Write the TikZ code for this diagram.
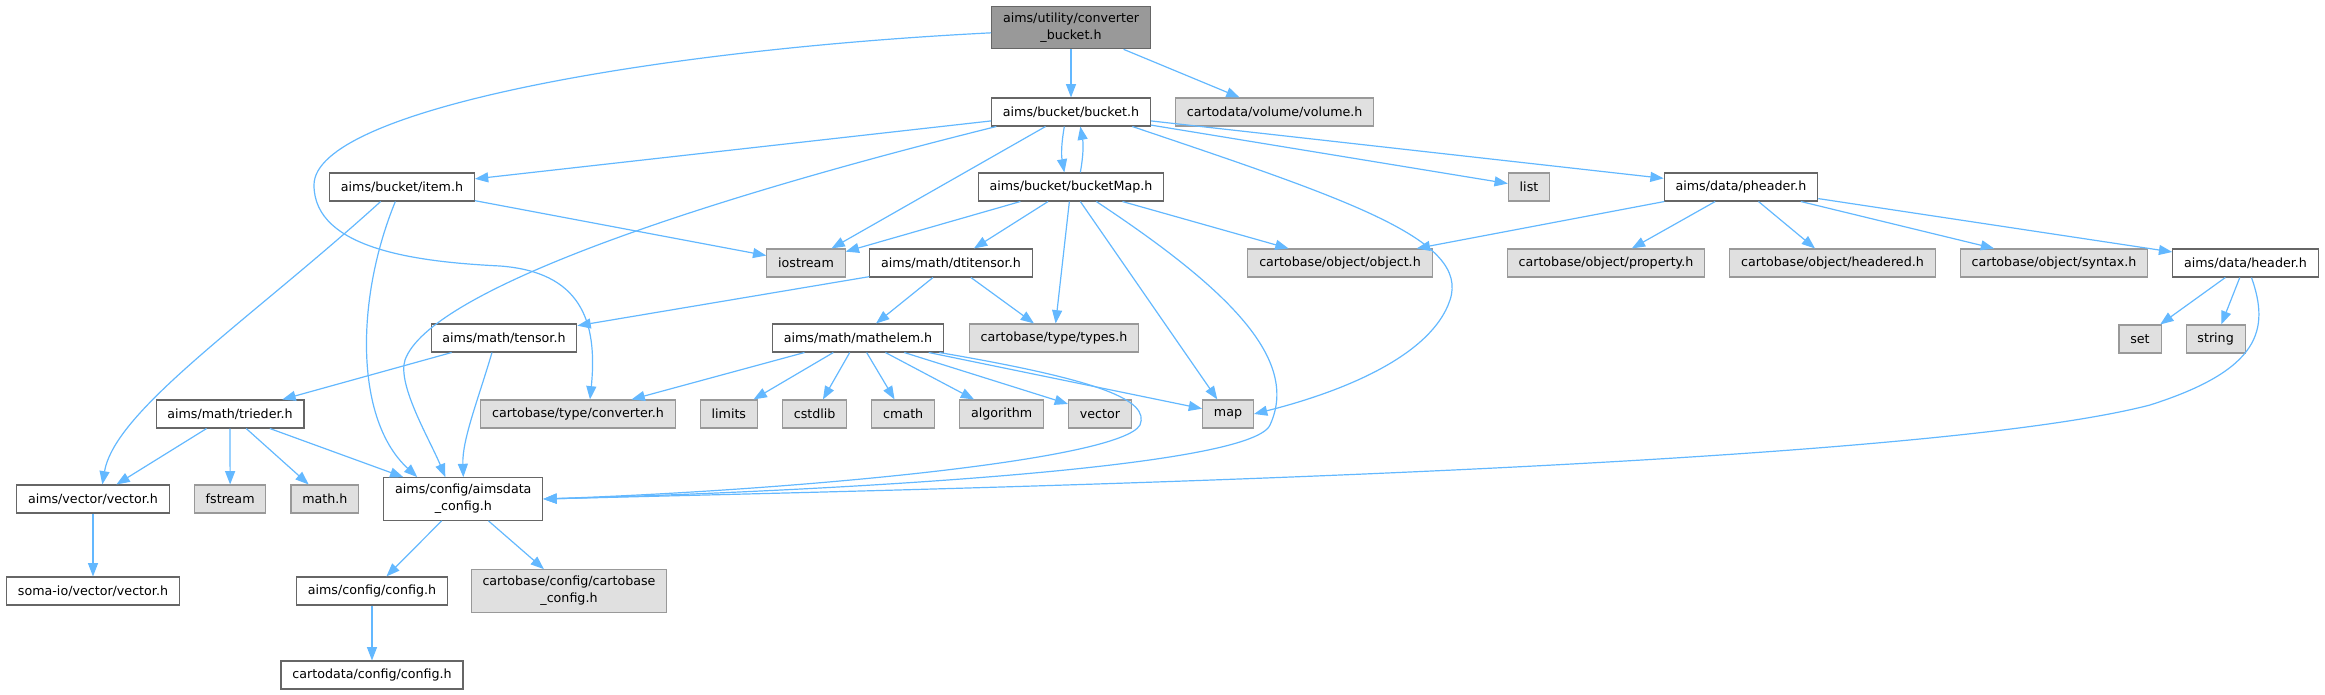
\documentclass[tikz,border=0pt]{standalone}
\usepackage{fontspec}
\setmainfont{DejaVu Sans}
\usetikzlibrary{arrows.meta,positioning}
\definecolor{edgeblue}{HTML}{63B8FF}
\definecolor{boxline}{HTML}{666666}
\definecolor{extline}{HTML}{999999}
\definecolor{extfill}{HTML}{E0E0E0}
\definecolor{rootfill}{HTML}{999999}

\begin{document}
\begin{tikzpicture}
  [x=0.75pt, y=-0.75pt,
  font=\fontsize{9.5}{12.5}\selectfont,
  hfile/.style={rectangle, draw=boxline, fill=white, line width=0.8pt,
    inner xsep=8.5pt, inner ysep=5pt, minimum height=21pt, align=center},
  hext/.style={hfile, draw=extline, fill=extfill},
  hroot/.style={hfile, fill=rootfill},
  dep/.style={-{Triangle[length=10pt, width=7.5pt]}, draw=edgeblue, line width=0.9pt}]

  \useasboundingbox (0,0) rectangle (2325,695);

  \node[hroot] (cb) at (1071,27.5) {aims/utility/converter\\\_bucket.h};
  \node[hfile] (bucket) at (1071,112) {aims/bucket/bucket.h};
  \node[hext] (volume) [right=18pt of bucket] {cartodata/volume/volume.h};

  \node[hfile] (item) at (402,187) {aims/bucket/item.h};
  \node[hfile] (bmap) at (1071,187) {aims/bucket/bucketMap.h};
  \node[hext] (list) at (1529,187) {list};
  \node[hfile] (pheader) at (1741,187) {aims/data/pheader.h};

  \node[hext] (iostream) at (806,263) {iostream};
  \node[hfile] (dti) at (951,263) {aims/math/dtitensor.h};
  \node[hext] (object) at (1340,263) {cartobase/object/object.h};
  \node[hext] (property) at (1606,263) {cartobase/object/property.h};
  \node[hext] (headered) [right=18pt of property] {cartobase/object/headered.h};
  \node[hext] (syntax) [right=18pt of headered] {cartobase/object/syntax.h};
  \node[hfile] (header) [right=18pt of syntax] {aims/data/header.h};

  \node[hfile] (tensor) at (504,338) {aims/math/tensor.h};
  \node[hfile] (mathelem) at (858,338) {aims/math/mathelem.h};
  \node[hext] (types) at (1054,338) {cartobase/type/types.h};
  \node[hext] (set) at (2140,339) {set};
  \node[hext] (string) [right=18pt of set] {string};

  \node[hfile] (trieder) at (230,414) {aims/math/trieder.h};
  \node[hext] (conv) at (578,414) {cartobase/type/converter.h};
  \node[hext] (limits) [right=18pt of conv] {limits};
  \node[hext] (cstdlib) [right=18pt of limits] {cstdlib};
  \node[hext] (cmath) [right=18pt of cstdlib] {cmath};
  \node[hext] (algorithm) [right=18pt of cmath] {algorithm};
  \node[hext] (vector) [right=18pt of algorithm] {vector};
  \node[hext] (map) at (1228,414) {map};

  \node[hfile] (vvec) at (93,499) {aims/vector/vector.h};
  \node[hext] (fstream) [right=18pt of vvec] {fstream};
  \node[hext] (mathh) [right=18pt of fstream] {math.h};
  \node[hfile] (adconf) [right=18pt of mathh] {aims/config/aimsdata\\\_config.h};

  \node[hfile] (somaio) at (93,591) {soma-io/vector/vector.h};
  \node[hfile] (aconfig) at (372,591) {aims/config/config.h};
  \node[hext] (cbconf) at (569,591) {cartobase/config/cartobase\\\_config.h};
  \node[hfile] (cdconfig) at (372,675) {cartodata/config/config.h};

  % converter_bucket.h
  \draw[dep] (cb) -- (bucket);
  \draw[dep] (cb) -- (volume);
  \draw[dep] ([yshift=-4pt]cb.west) .. controls (650,50) and (314,110) .. (314,185)
    .. controls (314,250) and (420,262) .. (500,266)
    .. controls (580,272) and (598,320) .. ([xshift=9pt]conv.north);

  % bucket.h
  \draw[dep] (bucket) -- (item);
  \draw[dep] ([xshift=-56pt]bucket.south) .. controls (700,200) and (430,290) .. (405,360)
    .. controls (397,385) and (430,440) .. ([xshift=-13.5pt]adconf.north);
  \draw[dep] (bucket) -- (iostream);
  \draw[dep] ([xshift=-5pt]bucket.south) to[bend right=10] ([xshift=-5pt]bmap.north);
  \draw[dep] ([xshift=46pt]bucket.south) .. controls (1350,200) and (1470,240) .. (1450,300)
    .. controls (1430,360) and (1330,395) .. (map.east);
  \draw[dep] (bucket) -- (list);
  \draw[dep] (bucket) -- (pheader);

  % item.h
  \draw[dep] (item) -- (iostream);
  \draw[dep] ([xshift=-16pt]item.south) .. controls (250,320) and (115,410) .. ([xshift=7pt]vvec.north);
  \draw[dep] ([xshift=-5pt]item.south) .. controls (355,300) and (355,420) .. ([xshift=-34.5pt]adconf.north);

  % bucketMap.h
  \draw[dep] ([xshift=7pt]bmap.north) to[bend right=10] ([xshift=7pt]bucket.south);
  \draw[dep] (bmap) -- (iostream);
  \draw[dep] (bmap) -- (dti);
  \draw[dep] (bmap) -- (types);
  \draw[dep] ([xshift=7pt]bmap.south) -- ([xshift=-8pt]map.north);
  \draw[dep] ([xshift=19pt]bmap.south) .. controls (1230,290) and (1300,360) .. (1270,425)
    .. controls (1250,470) and (800,492) .. (adconf.east);
  \draw[dep] (bmap) -- (object);

  % pheader.h
  \draw[dep] (pheader) -- (object);
  \draw[dep] (pheader) -- (property);
  \draw[dep] (pheader) -- (headered);
  \draw[dep] (pheader) -- (syntax);
  \draw[dep] (pheader) -- (header);

  % header.h
  \draw[dep] (header) -- (set);
  \draw[dep] (header) -- (string);
  \draw[dep] ([xshift=4.5pt]header.south) .. controls (2270,330) and (2260,370) .. (2150,405)
    .. controls (1900,470) and (900,490) .. (adconf.east);

  % dtitensor.h
  \draw[dep] (dti) -- (tensor);
  \draw[dep] (dti) -- (mathelem);
  \draw[dep] (dti) -- (types);

  % tensor.h
  \draw[dep] (tensor) -- (trieder);
  \draw[dep] ([xshift=-9pt]tensor.south) .. controls (478,400) and (462,440) .. (adconf.north);

  % mathelem.h
  \draw[dep] (mathelem) -- (conv);
  \draw[dep] (mathelem) -- (limits);
  \draw[dep] (mathelem) -- (cstdlib);
  \draw[dep] (mathelem) -- (cmath);
  \draw[dep] (mathelem) -- (algorithm);
  \draw[dep] (mathelem) -- (vector);
  \draw[dep] (mathelem) -- (map);
  \draw[dep] ([xshift=61pt]mathelem.south) .. controls (1100,380) and (1150,400) .. (1140,425)
    .. controls (1120,460) and (800,490) .. (adconf.east);

  % trieder.h
  \draw[dep] (trieder) -- (vvec);
  \draw[dep] (trieder) -- (fstream);
  \draw[dep] (trieder) -- (mathh);
  \draw[dep] (trieder) -- (adconf);

  % config
  \draw[dep] (vvec) -- (somaio);
  \draw[dep] (adconf) -- (aconfig);
  \draw[dep] (adconf) -- (cbconf);
  \draw[dep] (aconfig) -- (cdconfig);

\end{tikzpicture}
\end{document}
